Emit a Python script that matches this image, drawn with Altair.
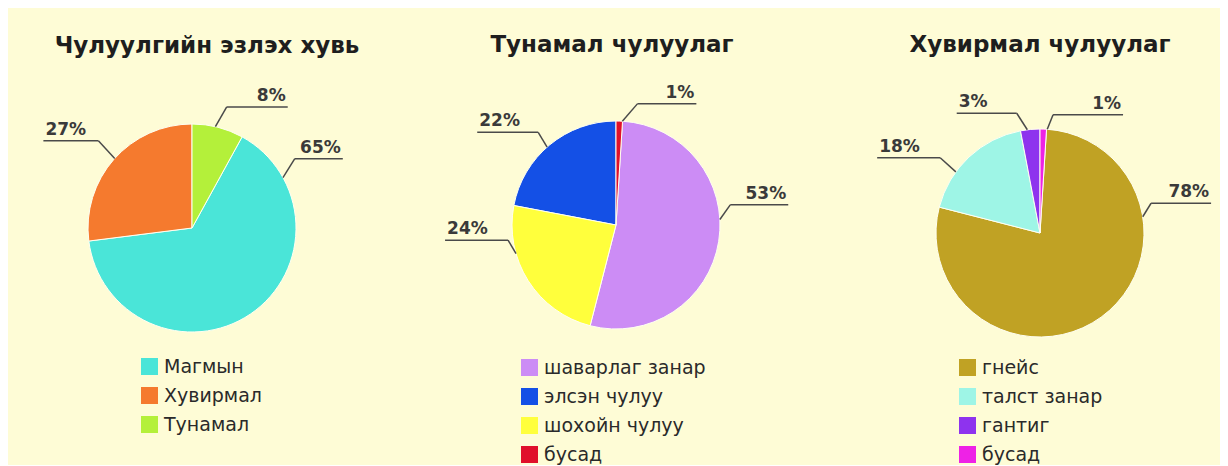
import math
import pandas as pd
import altair as alt

# ---------------- data ----------------
titles = ["Чулуулгийн эзлэх хувь", "Тунамал чулуулаг", "Хувирмал чулуулаг"]

cats_rock = ["Магмын", "Хувирмал", "Тунамал"]
vals_rock = [65, 27, 8]
cols_rock = ["#4AE5D8", "#F57A2E", "#B4F03A"]
order_rock = ["Тунамал", "Магмын", "Хувирмал"]  # clockwise from 12 o'clock

cats_sed = ["шаварлаг занар", "элсэн чулуу", "шохойн чулуу", "бусад"]
vals_sed = [53, 22, 24, 1]
cols_sed = ["#CC8CF5", "#1450E6", "#FFFF3C", "#E0102A"]
order_sed = ["бусад", "шаварлаг занар", "шохойн чулуу", "элсэн чулуу"]

cats_met = ["гнейс", "талст занар", "гантиг", "бусад"]
vals_met = [78, 18, 3, 1]
cols_met = ["#C0A224", "#9EF5E6", "#8E33EE", "#EE22E6"]
order_met = ["бусад", "гнейс", "талст занар", "гантиг"]

# ------------- layout (annotation geometry, px / degrees) -------------
# category -> (anchor angle, elbow angle, elbow radius, leader length)
lay_rock = {"Тунамал": (13, 16, 126, 61), "Магмын": (61, 56, 124, 48),
            "Хувирмал": (312, 313, 128, 55)}
lay_sed = {"бусад": (3.5, 10, 123, 59), "шаварлаг занар": (87, 80, 116, 58),
           "элсэн чулуу": (318.5, 320, 121, 61), "шохойн чулуу": (254, 262, 109, 63)}
lay_met = {"бусад": (4, 6.3, 119, 70), "гнейс": (81, 75, 115, 60),
           "талст занар": (306, 307, 125, 63), "гантиг": (353, 349, 122, 60)}

R = 104
W, H = 404, 450
FONT = "DejaVu Sans"
BG = "#FEFCD6"


def pol(angle_deg, r):
    a = math.radians(angle_deg)
    return r * math.sin(a), r * math.cos(a)


def panel(cats, vals, colors, order, layout, title, cxl, cyt, tdx, tty, lx, ly):
    xs = alt.Scale(domain=[-cxl, W - cxl], nice=False, zero=False)
    ys = alt.Scale(domain=[-(H - cyt), cyt], nice=False, zero=False)

    slices = pd.DataFrame({
        "cat": cats, "value": vals,
        "ord": [order.index(c) for c in cats],
        "cx": [0] * len(cats), "cy": [0] * len(cats),
    })

    seg_rows, lab_rows = [], []
    for c, v in zip(cats, vals):
        a0, a1, r1, L = layout[c]
        x0, y0 = pol(a0, R)
        x1, y1 = pol(a1, r1)
        side = 1 if x1 > 0 else -1
        x2 = x1 + side * L
        seg_rows.append({"x": x0, "y": y0, "x2": x1, "y2": y1})
        seg_rows.append({"x": x1, "y": y1, "x2": x2, "y2": y1})
        lab_rows.append({"label": f"{v}%", "tx": x2 - side * 2, "ty": y1 + 6,
                         "side": "R" if side > 0 else "L"})
    segs = pd.DataFrame(seg_rows)
    labs = pd.DataFrame(lab_rows)

    arcs = alt.Chart(slices).mark_arc(outerRadius=R, stroke="#FFFFF2", strokeWidth=1).encode(
        x=alt.X("cx:Q", scale=xs, axis=None),
        y=alt.Y("cy:Q", scale=ys, axis=None),
        theta=alt.Theta("value:Q", stack=True),
        color=alt.Color("cat:N", scale=alt.Scale(domain=cats, range=colors),
                        legend=alt.Legend(orient="none", legendX=lx, legendY=ly, title=None,
                                          symbolType="square", symbolSize=289,
                                          symbolStrokeWidth=0, symbolOpacity=1,
                                          labelFont=FONT, labelFontSize=19,
                                          labelColor="#2A2A2A", rowPadding=9,
                                          labelOffset=5, labelLimit=400, padding=0)),
        order=alt.Order("ord:Q"),
    )

    rules = alt.Chart(segs).mark_rule(color="#4A4A4A", strokeWidth=1.5).encode(
        x=alt.X("x:Q", scale=xs, axis=None), y=alt.Y("y:Q", scale=ys, axis=None),
        x2="x2:Q", y2="y2:Q",
    )

    def labels(side, align):
        return alt.Chart(labs).transform_filter(alt.datum.side == side).mark_text(
            align=align, baseline="alphabetic", font=FONT, fontSize=17,
            fontWeight="bold", color="#3A3A3A",
        ).encode(
            x=alt.X("tx:Q", scale=xs, axis=None), y=alt.Y("ty:Q", scale=ys, axis=None),
            text="label:N",
        )

    tdf = pd.DataFrame({"t": [title], "tx": [tdx], "ty": [tty]})
    tmark = alt.Chart(tdf).mark_text(
        align="center", baseline="alphabetic", font=FONT, fontSize=23,
        fontWeight="bold", color="#1E1E1E",
    ).encode(
        x=alt.X("tx:Q", scale=xs, axis=None), y=alt.Y("ty:Q", scale=ys, axis=None),
        text="t:N",
    )

    return alt.layer(arcs, rules, labels("R", "right"), labels("L", "left"), tmark).properties(
        width=W, height=H)


p1 = panel(cats_rock, vals_rock, cols_rock, order_rock, lay_rock, titles[0],
           184, 220, 15, 175, 132, 349)
p2 = panel(cats_sed, vals_sed, cols_sed, order_sed, lay_sed, titles[1],
           204, 217, -4, 173, 108, 350)
p3 = panel(cats_met, vals_met, cols_met, order_met, lay_met, titles[2],
           224, 225, 0, 181, 142, 350)

chart = alt.hconcat(p1, p2, p3, spacing=0).resolve_scale(
    color="independent", x="independent", y="independent", theta="independent"
).properties(padding=0, background=BG).configure_view(stroke=None)

chart.save("out.html", embed_options={"renderer": "svg", "actions": False})
